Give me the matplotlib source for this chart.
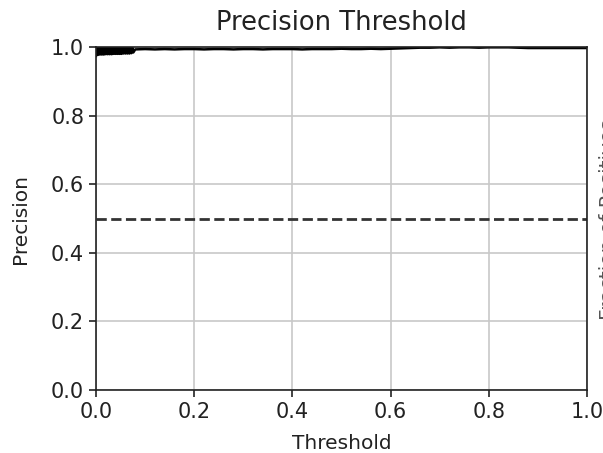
import matplotlib
matplotlib.use("Agg")
import matplotlib.pyplot as plt

# Threshold / precision values
early_thresholds = [0.000, 0.002, 0.004, 0.006, 0.008, 0.010, 0.012, 0.014, 0.016, 0.018,
                    0.020, 0.022, 0.024, 0.026, 0.028, 0.030, 0.032, 0.034, 0.036, 0.038,
                    0.040, 0.042, 0.044, 0.046, 0.048, 0.050, 0.052, 0.054, 0.056, 0.058,
                    0.060, 0.062, 0.064, 0.066, 0.068, 0.070, 0.072, 0.074, 0.076]
early_precision = [0.974, 0.998, 0.977, 0.998, 0.978, 0.998, 0.978, 0.998, 0.978, 0.998,
                   0.979, 0.998, 0.979, 0.998, 0.979, 0.998, 0.979, 0.998, 0.980, 0.998,
                   0.980, 0.998, 0.980, 0.998, 0.980, 0.998, 0.980, 0.998, 0.981, 0.998,
                   0.981, 0.998, 0.981, 0.998, 0.981, 0.998, 0.982, 0.998, 0.984]
late_thresholds = [0.08, 0.10, 0.12, 0.14, 0.16, 0.18, 0.20, 0.22, 0.24, 0.26, 0.28, 0.30,
                   0.32, 0.34, 0.36, 0.38, 0.40, 0.42, 0.44, 0.46, 0.48, 0.50, 0.52, 0.54,
                   0.56, 0.58, 0.60, 0.62, 0.64, 0.66, 0.68, 0.70, 0.72, 0.74, 0.76, 0.78,
                   0.80, 0.82, 0.84, 0.86, 0.88, 0.90, 0.92, 0.94, 0.96, 0.98, 1.00]
late_precision = [0.993, 0.994, 0.993, 0.994, 0.993, 0.994, 0.994, 0.993, 0.994, 0.994,
                  0.993, 0.994, 0.994, 0.993, 0.994, 0.994, 0.994, 0.993, 0.994, 0.994,
                  0.994, 0.995, 0.994, 0.994, 0.995, 0.994, 0.995, 0.996, 0.997, 0.998,
                  0.998, 0.999, 0.998, 0.999, 0.999, 0.998, 0.999, 0.999, 0.999, 0.998,
                  0.997, 0.997, 0.997, 0.997, 0.997, 0.997, 0.997]
reference_level = 0.5

thresholds = early_thresholds + late_thresholds
precision = early_precision + late_precision

fig = plt.figure(figsize=(6.03, 4.53), dpi=100)
ax = fig.add_axes([96/603, 1 - 390/453, (587-96)/603, (390-47)/453])

ax.plot(thresholds, precision, color="black", linewidth=1.8)
ax.axhline(reference_level, color="#333333", linestyle="--", linewidth=2)

ax.set_xlim(0, 1)
ax.set_ylim(0, 1)
ax.set_xticks([0, 0.2, 0.4, 0.6, 0.8, 1.0])
ax.set_yticks([0, 0.2, 0.4, 0.6, 0.8, 1.0])
ax.grid(True, color="#c8c8c8", linewidth=1.2)
for s in ax.spines.values():
    s.set_color("#222222")
    s.set_linewidth(1.2)
ax.tick_params(labelsize=15, length=5, width=1.2, colors="#222222", labelcolor="#222222")
ax.set_title("Precision Threshold", fontsize=18.5, color="#222222", pad=12)
ax.set_xlabel("Threshold", fontsize=14.5, color="#222222", labelpad=9)
ax.set_ylabel("Precision", fontsize=14.5, color="#222222", labelpad=15)

# clipped label of a neighbouring panel on the right edge
fig.text(599.5/603, 1 - 220/453, "Fraction of Positives", rotation=90,
         ha="left", va="center", fontsize=14.5, color="#555555")

fig.savefig("out.png", dpi=100)
